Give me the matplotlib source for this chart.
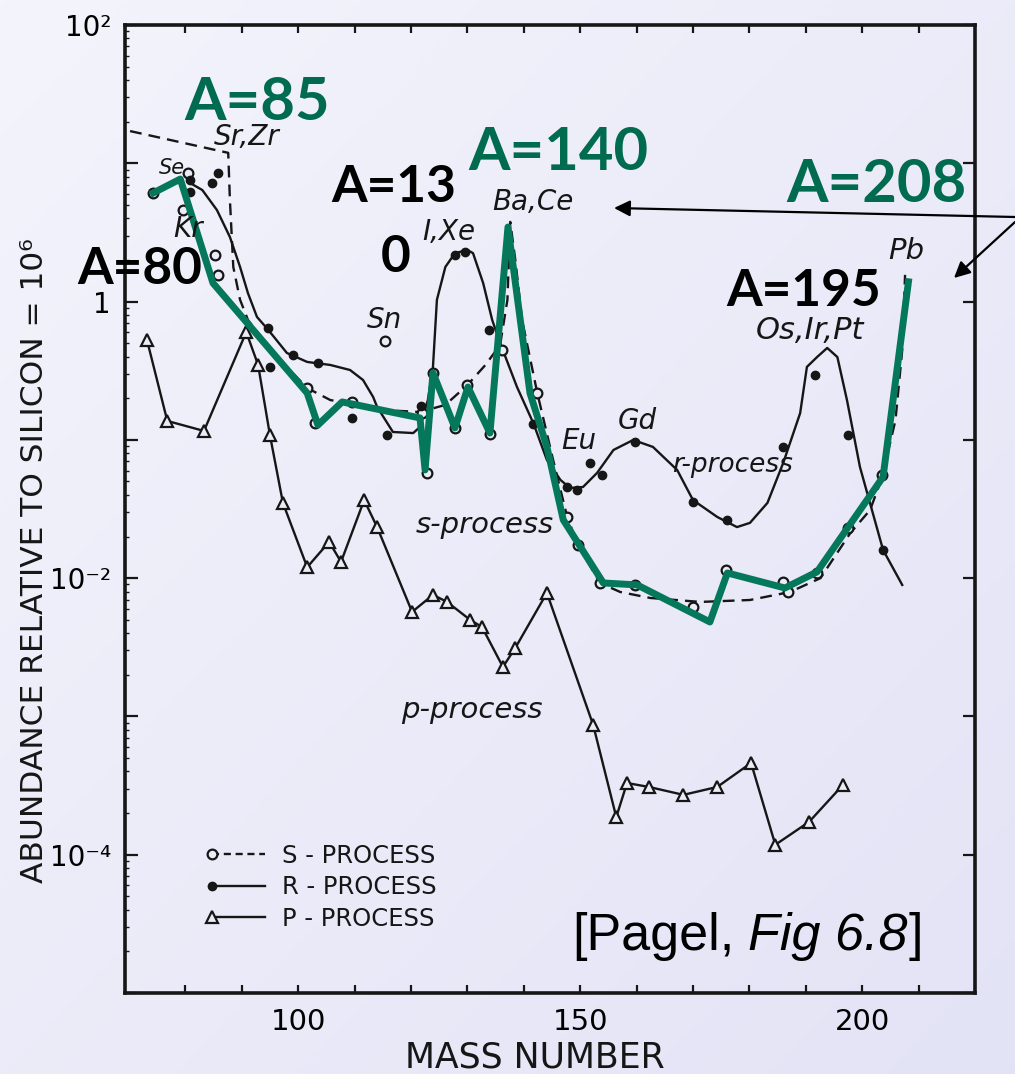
import numpy as np
import matplotlib
matplotlib.use("Agg")
import matplotlib.pyplot as plt
from matplotlib.lines import Line2D
from matplotlib.legend_handler import HandlerLine2D
from matplotlib.ticker import LogLocator, NullFormatter

# --- 읽어낸 값 (질량수 A, Si=1e6 기준 존재비) ---
# s-process 점선 곡선
s_curve_A  = [70.2, 87.6, 87.9, 88.5, 89.7, 91.1, 95.6, 101.6, 105.7, 109.8, 115.4, 121.6,
              126.1, 130.0, 133.2, 135.8, 137.1, 137.6, 138.5, 139.7, 142.4, 145.2, 147.7,
              149.6, 153.5, 157.1, 162.4, 171.3, 180.1, 187.2, 192.6, 197.9, 201.4, 203.5,
              205.9, 207.1, 207.6]
s_curve_ab = [17.1, 11.9, 5.43, 1.78, 1.03, 0.736, 0.425, 0.237, 0.194, 0.182, 0.164, 0.159,
              0.179, 0.249, 0.348, 0.485, 1.03, 3.77, 2.00, 0.736, 0.218, 0.0716, 0.0277,
              0.0174, 0.00923, 0.00794, 0.00719, 0.00673, 0.00695, 0.00794, 0.0100, 0.0212,
              0.0311, 0.0531, 0.139, 0.447, 1.56]
# s-process 점 (열린 원)
s_A  = [74.3, 80.5, 79.6, 85.3, 85.8, 101.6, 103.0, 109.6, 115.4, 122.0, 122.9, 123.9,
        127.8, 130.0, 134.0, 136.2, 142.4, 147.7, 149.6, 153.5, 159.8, 170.0, 175.9,
        186.0, 186.9, 192.0, 197.5, 203.5]
s_ab = [6.10, 8.51, 4.59, 2.17, 1.56, 0.237, 0.132, 0.188, 0.519, 0.156, 0.0577, 0.305,
        0.122, 0.249, 0.110, 0.447, 0.218, 0.0277, 0.0174, 0.00923, 0.00893, 0.00619, 0.0115,
        0.0094, 0.00794, 0.0109, 0.0231, 0.0557]

# r-process 실선 곡선
r_curve_A  = [80.5, 83.0, 85.6, 87.9, 89.7, 91.1, 92.7, 94.7, 98.0, 101.6, 105.7, 109.2,
              111.5, 113.3, 114.0, 116.8, 120.4, 121.6, 123.0, 123.9, 124.6, 126.1, 127.8,
              130.0, 131.0, 132.8, 134.4, 135.8, 138.8, 141.7, 144.1, 146.5, 148.2, 150.5,
              153.0, 155.9, 159.4, 162.9, 167.2, 170.0, 174.3, 177.8, 180.1, 183.2, 186.0,
              189.0, 190.2, 192.0, 193.8, 195.6, 197.3, 199.6, 203.7, 207.1]
r_curve_ab = [7.33, 6.41, 4.59, 2.93, 1.78, 1.15, 0.774, 0.624, 0.425, 0.366, 0.348, 0.320,
              0.271, 0.204, 0.173, 0.114, 0.112, 0.124, 0.194, 0.337, 1.03, 1.78, 2.24,
              2.36, 2.24, 1.36, 0.736, 0.502, 0.241, 0.132, 0.0716, 0.0513, 0.0449, 0.0456,
              0.0577, 0.0845, 0.0998, 0.0889, 0.0605, 0.0367, 0.0277, 0.0234, 0.0251, 0.0350,
              0.0681, 0.156, 0.337, 0.397, 0.462, 0.397, 0.194, 0.0637, 0.0160, 0.00893]
# r-process 점 (채운 원)
r_A  = [80.9, 80.9, 84.8, 85.8, 94.7, 95.0, 99.1, 103.5, 109.6, 115.8, 121.8, 127.8,
        129.6, 133.9, 141.7, 147.7, 149.5, 151.8, 153.9, 159.8, 170.0, 176.1, 186.0,
        191.7, 197.5, 203.7]
r_ab = [7.57, 6.19, 7.21, 8.51, 0.644, 0.337, 0.411, 0.360, 0.144, 0.108, 0.176, 2.17,
        2.29, 0.624, 0.130, 0.0456, 0.0435, 0.0681, 0.0557, 0.0966, 0.0356, 0.0264, 0.0889,
        0.294, 0.108, 0.0160]

# p-process (삼각형)
p_A  = [73.2, 76.8, 83.3, 90.8, 92.9, 95.0, 97.3, 101.6, 105.5, 107.6, 111.7, 114.0,
        120.2, 123.9, 126.4, 130.5, 132.6, 136.3, 138.5, 144.1, 152.3, 156.4, 158.3,
        162.2, 168.3, 174.3, 180.3, 184.6, 190.6, 196.6]
p_ab = [0.527, 0.137, 0.116, 0.602, 0.348, 0.108, 0.0350, 0.0120, 0.0183, 0.0131, 0.0367,
        0.0234, 0.0057, 0.00757, 0.00673, 0.00499, 0.00443, 0.00228, 0.00313, 0.00782,
        0.000869, 0.000187, 0.00033, 0.000309, 0.000271, 0.000309, 0.000461, 0.000118,
        0.000173, 0.00032]

# 초록 덧그림 선
g_A  = [74.3, 79.1, 84.9, 101.6, 103.5, 107.8, 121.6, 122.5, 123.9, 127.8, 130.1, 134.0,
        137.2, 141.1, 144.1, 147.0, 154.1, 160.1, 173.0, 176.1, 186.3, 192.0, 203.7, 208.2]
g_ab = [6.10, 7.69, 1.36, 0.218, 0.128, 0.188, 0.144, 0.0606, 0.305, 0.122, 0.241, 0.112,
        3.46, 0.218, 0.089, 0.0264, 0.00923, 0.00893, 0.00482, 0.0109, 0.00849, 0.0111,
        0.054, 1.39]

x_ticks = list(range(80, 220, 10))
x_labels = {100: "100", 150: "150", 200: "200"}
y_decades = [1e-5, 1e-4, 1e-3, 1e-2, 1e-1, 1e0, 1e1, 1e2]
y_labels = ["", "10⁻⁴", "", "10⁻²", "", "1", "", "10²"]

W, H = 1015, 1074
INK = "#161616"
BG = "#ececf8"
GREEN_TXT = "#006b4f"
GREEN_LINE = "#05785b"


def fx(x):
    return x / W


def fy(y):
    return 1 - y / H


fig = plt.figure(figsize=(W / 100, H / 100), dpi=100)

# 배경 (연보라 그라데이션)
bg = fig.add_axes([0, 0, 1, 1], zorder=-10)
gx, gy = np.meshgrid(np.linspace(0, 1, 200), np.linspace(0, 1, 200))
t = ((gx + gy) / 2)[..., None]
c0 = np.array([0.957, 0.957, 0.988])
c1 = np.array([0.890, 0.890, 0.965])
bg.imshow(c0 + (c1 - c0) * t, aspect="auto", extent=[0, 1, 0, 1], origin="upper")
bg.axis("off")

ax = fig.add_axes([fx(125), fy(993), fx(975) - fx(125), fy(25) - fy(993)])
ax.set_facecolor("none")
ax.set_yscale("log")
ax.set_xlim(69.3, 220)
ax.set_ylim(1e-5, 1e2)

# 곡선 & 점
ax.plot(s_curve_A, s_curve_ab, color=INK, lw=1.7, ls=(0, (5, 3)), zorder=2)
ax.plot(r_curve_A, r_curve_ab, color=INK, lw=1.7, zorder=2)
ax.plot(p_A, p_ab, color=INK, lw=1.7, marker="^", ms=9, mfc=BG, mec=INK, mew=1.6, zorder=3)
ax.plot(s_A, s_ab, ls="none", marker="o", ms=7, mfc=BG, mec=INK, mew=1.6, zorder=3)
ax.plot(r_A, r_ab, ls="none", marker="o", ms=6, mfc=INK, mec=INK, zorder=3)
ax.plot(g_A, g_ab, color=GREEN_LINE, lw=5, solid_joinstyle="round", zorder=6)

# 축/눈금
for sp in ax.spines.values():
    sp.set_linewidth(2.6)
    sp.set_color(INK)
ax.set_xticks(x_ticks)
ax.set_xticklabels([x_labels.get(v, "") for v in x_ticks])
ax.set_yticks(y_decades)
ax.set_yticklabels(y_labels)
ax.yaxis.set_minor_locator(LogLocator(base=10, subs=range(2, 10)))
ax.yaxis.set_minor_formatter(NullFormatter())
ax.tick_params(axis="x", which="major", direction="in", top=True, bottom=True,
               length=6, width=1.6, color=INK, labelsize=21, pad=11)
ax.tick_params(axis="y", which="major", direction="in", left=True, right=True,
               length=9, width=1.6, color=INK, labelsize=20, pad=10)
ax.tick_params(axis="y", which="minor", direction="in", left=True, right=False,
               length=3, width=1.0, color=INK)

fig.text(fx(535), fy(1058), "MASS NUMBER", ha="center", va="center", fontsize=25, color=INK)
fig.text(fx(35), fy(561), "ABUNDANCE RELATIVE TO SILICON = 10⁶", ha="center", va="center",
         rotation=90, fontsize=22.5, color=INK)

# 원소 라벨 (스캔 그림의 이탤릭 글씨)
elem_labels = [("Sr,Zr", 247, 137, 20), ("Se", 172, 168, 15), ("Kr", 188, 229, 20),
               ("Sn", 384, 320, 20), ("I,Xe", 449, 232, 20), ("Ba,Ce", 533, 202, 20),
               ("Eu", 579, 441, 20), ("Gd", 637, 421, 20), ("r-process", 733, 465, 19),
               ("s-process", 485, 525, 21), ("p-process", 472, 710, 21),
               ("Os,Ir,Pt", 810, 330, 22), ("Pb", 906, 251, 21)]
for txt, x, y, fs in elem_labels:
    fig.text(fx(x), fy(y), txt, ha="center", va="center", fontsize=fs, style="italic",
             color=INK)


# 범례: 마커를 왼쪽 끝에
class LeftMarker(HandlerLine2D):
    def create_artists(self, legend, orig_handle, xdescent, ydescent, width, height,
                       fontsize, trans):
        y = (height - ydescent) / 2
        line = Line2D([-xdescent, -xdescent + width], [y, y])
        self.update_prop(line, orig_handle, legend)
        line.set_markevery([0])
        line.set_transform(trans)
        return [line]


handles = [
    Line2D([], [], color=INK, lw=1.7, ls=(0, (3, 2)), marker="o", ms=7, mfc=BG, mec=INK, mew=1.6),
    Line2D([], [], color=INK, lw=1.7, marker="o", ms=6, mfc=INK, mec=INK),
    Line2D([], [], color=INK, lw=1.7, marker="^", ms=9, mfc=BG, mec=INK, mew=1.6),
]
leg = ax.legend(handles, ["S - PROCESS", "R - PROCESS", "P - PROCESS"],
                handler_map={h: LeftMarker() for h in handles},
                loc="upper left", bbox_to_anchor=(fx(212), fy(844)),
                bbox_transform=fig.transFigure, frameon=False, fontsize=17.5,
                handlelength=2.2, handletextpad=0.7, labelspacing=0.3, borderpad=0,
                borderaxespad=0)
for txt in leg.get_texts():
    txt.set_color(INK)

# [Pagel, Fig 6.8] (Fig 6.8 만 이탤릭)
PFS = 37.5
t1 = fig.text(fx(572), fy(950), "[Pagel,", fontsize=PFS, family="Liberation Sans",
              va="baseline", ha="left", color="black")
t2 = ax.annotate("Fig 6.8", xy=(1, 0), xycoords=t1, xytext=(14, 0),
                 textcoords="offset pixels", va="bottom", ha="left", fontsize=PFS,
                 style="italic", family="Liberation Sans", color="black",
                 annotation_clip=False)
ax.annotate("]", xy=(1, 0), xycoords=t2, xytext=(1, 0), textcoords="offset pixels",
            va="bottom", ha="left", fontsize=PFS, family="Liberation Sans", color="black",
            annotation_clip=False)

# 초록/검정 주석
notes = [("A=85", 257, 103, GREEN_TXT, 43), ("A=140", 558, 153, GREEN_TXT, 43),
         ("A=208", 876, 185, GREEN_TXT, 43), ("A=80", 140, 270, "black", 37),
         ("A=13", 394, 188, "black", 37), ("0", 396, 258, "black", 37),
         ("A=195", 804, 291, "black", 37)]
for txt, x, y, c, fs in notes:
    fig.text(fx(x), fy(y), txt, ha="center", va="center", fontsize=fs, fontweight="bold",
             family=["Lato", "DejaVu Sans"], color=c, zorder=10)

arrow = dict(arrowstyle="-|>", color="black", lw=1.6, mutation_scale=24, shrinkA=0, shrinkB=0)
ax.annotate("", xy=(fx(614), fy(208)), xytext=(fx(1015), fy(217)), xycoords="figure fraction",
            textcoords="figure fraction", arrowprops=arrow, annotation_clip=False)
ax.annotate("", xy=(fx(954), fy(278)), xytext=(fx(1015), fy(222)), xycoords="figure fraction",
            textcoords="figure fraction", arrowprops=arrow, annotation_clip=False)

fig.savefig("out.png", dpi=100)
